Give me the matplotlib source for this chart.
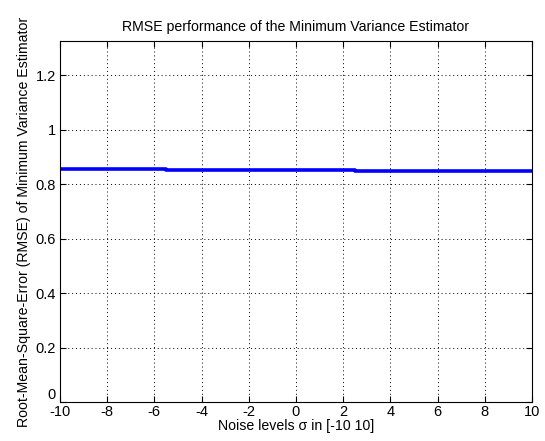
import matplotlib
matplotlib.use('Agg')
import matplotlib.pyplot as plt

# noise levels and RMSE of the estimator
noise = [-10, -9, -8, -7, -6, -5, -4, -3, -2, -1, 0, 1, 2, 3, 4, 5, 6, 7, 8, 9, 10]
rmse = [0.857, 0.857, 0.857, 0.857, 0.857,
        0.853, 0.853, 0.853, 0.853, 0.853, 0.853, 0.853, 0.853,
        0.849, 0.849, 0.849, 0.849, 0.849, 0.849, 0.849, 0.849]
xticks = [-10, -8, -6, -4, -2, 0, 2, 4, 6, 8, 10]
yticks = [0, 0.2, 0.4, 0.6, 0.8, 1, 1.2]
ytick_labels = ['0', '0.2', '0.4', '0.6', '0.8', '1', '1.2']

plt.rcParams['font.family'] = ['Liberation Sans', 'DejaVu Sans']

fig = plt.figure(figsize=(5.45, 4.41), dpi=100)
ax = fig.add_axes([0.110, 0.0884, 0.866, 0.8186])

ax.step(noise, rmse, where='mid', color='#0000ff', lw=2.6)

ax.set_xlim(-10, 10)
ax.set_ylim(0, 1.325)
ax.set_xticks(xticks)
ax.set_xticklabels([str(t) for t in xticks])
ax.set_yticks(yticks)
ax.set_yticklabels(ytick_labels)
ax.grid(True, color='black', linestyle=(0, (1, 3)), linewidth=0.7)
ax.tick_params(direction='in', length=4, labelsize=10.5, top=True, right=True,
               pad=2, width=0.8)
ax.tick_params(axis='y', pad=3)
for s in ax.spines.values():
    s.set_linewidth(0.8)

# the "0" on the y axis sits just above the "-10", as in the original
ax.get_yticklabels()[0].set_verticalalignment('bottom')

ax.set_title('RMSE performance of the Minimum Variance Estimator', fontsize=10.2, pad=7)
ax.set_xlabel('Noise levels σ in [-10 10]', fontsize=10.2, labelpad=0)
ax.set_ylabel('Root-Mean-Square-Error (RMSE) of Minimum Variance Estimator', fontsize=10.2, labelpad=3)

fig.savefig('out.png', dpi=100)
